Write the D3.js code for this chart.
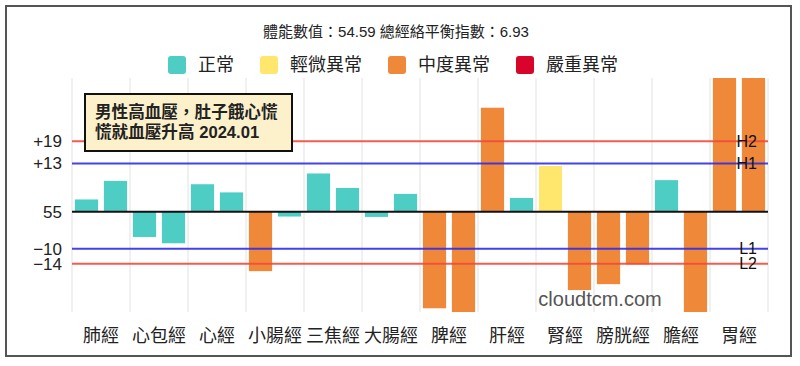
<!DOCTYPE html>
<html>
<head>
<meta charset="utf-8">
<script src="https://cdn.jsdelivr.net/npm/d3@7"></script>
<style>
  body { margin: 0; background: #fff; }
  svg { display: block; }
  text { font-family: Helvetica, Arial, "Liberation Sans", "Noto Sans CJK TC", sans-serif; }
</style>
</head>
<body>
<div id="chart"></div>
<script>
// Data (deviation from 55)
var meridians = ["肺經", "心包經", "心經", "小腸經", "三焦經", "大腸經", "脾經", "肝經", "腎經", "膀胱經", "膽經", "胃經"];
var leftValues = [3.3, -6.8, 7.4, -16.0, 10.3, -1.4, -26.0, 28.0, 12.3, -19.5, 8.5, 40];
var rightValues = [8.3, -8.5, 5.2, -1.3, 6.4, 4.8, -29, 3.7, -21.1, -14.2, -29, 40];
var leftStatus = ["正常", "正常", "正常", "中度異常", "正常", "正常", "中度異常", "中度異常", "輕微異常", "中度異常", "正常", "中度異常"];
var rightStatus = ["正常", "正常", "正常", "正常", "正常", "正常", "中度異常", "正常", "中度異常", "中度異常", "中度異常", "中度異常"];

var statusNames = ["正常", "輕微異常", "中度異常", "嚴重異常"];
var statusColors = ["#4ecdc4", "#ffe66d", "#f0883a", "#d9042b"];

var tickValues = [19, 13, 0, -10, -14];
var tickLabels = ["+19", "+13", "55", "\u221210", "\u221214"];
var refLines = [
  { value: 19, name: "H2", color: "#f24a3c" },
  { value: 13, name: "H1", color: "#2f2fe6" },
  { value: -10, name: "L1", color: "#2f2fe6" },
  { value: -14, name: "L2", color: "#f24a3c" }
];

var titleText = "體能數值：54.59 總經絡平衡指數：6.93";
var noteLines = ["男性高血壓，肚子餓心慌", "慌就血壓升高 2024.01"];

var svgWidth = 800, svgHeight = 366;
var margin = { top: 78, right: 32, bottom: 54, left: 72 };
var chartWidth = svgWidth - margin.left - margin.right;
var chartHeight = svgHeight - margin.top - margin.bottom;

var svg = d3.select("#chart").append("svg")
  .attr("width", svgWidth)
  .attr("height", svgHeight);

// outer frame
svg.append("rect")
  .attr("x", 6).attr("y", 6)
  .attr("width", 785).attr("height", 350)
  .attr("fill", "none")
  .attr("stroke", "#555")
  .attr("stroke-width", 2);

// title
svg.append("text")
  .attr("x", 396).attr("y", 31)
  .attr("text-anchor", "middle")
  .attr("dominant-baseline", "central")
  .attr("font-size", 15)
  .attr("fill", "#222")
  .text(titleText);

// legend
var legend = svg.append("g");
var lx = 0;
statusNames.forEach(function (name, i) {
  var item = legend.append("g").attr("transform", "translate(" + lx + ",0)");
  item.append("rect")
    .attr("x", 0).attr("y", -9)
    .attr("width", 18).attr("height", 18)
    .attr("rx", 3)
    .attr("fill", statusColors[i]);
  var t = item.append("text")
    .attr("x", 30).attr("y", 0)
    .attr("dominant-baseline", "central")
    .attr("font-size", 18)
    .attr("fill", "#222")
    .text(name);
  lx += 30 + t.node().getComputedTextLength() + 26;
});
lx -= 26;
legend.attr("transform", "translate(" + (393 - lx / 2) + ",65)");

var chartGroup = svg.append("g")
  .attr("transform", "translate(" + margin.left + "," + margin.top + ")");

var x0 = d3.scaleBand().domain(meridians).range([0, chartWidth]);
var x1 = d3.scaleBand().domain([0, 1]).range([0, x0.bandwidth()])
  .paddingInner(0.2).paddingOuter(0.1);
var y = d3.scaleLinear().domain([-27, 36]).range([chartHeight, 0]);

// vertical grid lines
var gridX = meridians.map(function (m) { return x0(m); }).concat([chartWidth]);
chartGroup.selectAll(".grid")
  .data(gridX)
  .enter().append("line")
  .attr("x1", function (d) { return d; })
  .attr("x2", function (d) { return d; })
  .attr("y1", 0).attr("y2", chartHeight)
  .attr("stroke", "#e2e2e2")
  .attr("stroke-width", 1);

chartGroup.append("clipPath").attr("id", "plotClip")
  .append("rect").attr("width", chartWidth).attr("height", chartHeight);

// bars
var bars = [];
meridians.forEach(function (m, i) {
  bars.push({ m: m, side: 0, v: leftValues[i], s: leftStatus[i] });
  bars.push({ m: m, side: 1, v: rightValues[i], s: rightStatus[i] });
});
chartGroup.append("g").attr("clip-path", "url(#plotClip)")
  .selectAll("rect")
  .data(bars)
  .enter().append("rect")
  .attr("x", function (d) { return x0(d.m) + x1(d.side); })
  .attr("width", x1.bandwidth())
  .attr("y", function (d) { return y(Math.max(0, d.v)); })
  .attr("height", function (d) { return Math.abs(y(d.v) - y(0)); })
  .attr("fill", function (d) { return statusColors[statusNames.indexOf(d.s)]; });

// reference lines
refLines.forEach(function (r) {
  chartGroup.append("line")
    .attr("x1", 0).attr("x2", chartWidth)
    .attr("y1", y(r.value)).attr("y2", y(r.value))
    .attr("stroke", r.color)
    .attr("stroke-opacity", 0.9)
    .attr("stroke-width", 2);
  chartGroup.append("text")
    .attr("x", chartWidth - 11)
    .attr("y", y(r.value))
    .attr("text-anchor", "end")
    .attr("dominant-baseline", "central")
    .attr("font-size", 16)
    .attr("fill", "#111")
    .text(r.name);
});

// zero (55) line
chartGroup.append("line")
  .attr("x1", 0).attr("x2", chartWidth)
  .attr("y1", y(0)).attr("y2", y(0))
  .attr("stroke", "#111")
  .attr("stroke-width", 2);

// y axis labels
var yAxis = d3.axisLeft(y)
  .tickValues(tickValues)
  .tickSize(0)
  .tickPadding(10)
  .tickFormat(function (d, i) { return tickLabels[i]; });
var yg = chartGroup.append("g").call(yAxis);
yg.select(".domain").remove();
yg.selectAll("text")
  .attr("font-size", 17)
  .attr("fill", "#222")
  .attr("font-family", "Helvetica, Arial, 'Liberation Sans', sans-serif");

// x axis labels
var xAxis = d3.axisBottom(x0).tickSize(0).tickPadding(17);
var xg = chartGroup.append("g")
  .attr("transform", "translate(0," + chartHeight + ")")
  .call(xAxis);
xg.select(".domain").remove();
xg.selectAll("text")
  .attr("font-size", 18)
  .attr("fill", "#222")
  .attr("font-family", "'Noto Sans CJK TC', sans-serif");

// watermark
svg.append("text")
  .attr("x", 600).attr("y", 299)
  .attr("text-anchor", "middle")
  .attr("dominant-baseline", "central")
  .attr("font-size", 20)
  .attr("fill", "#555")
  .text("cloudtcm.com");

// note box
var note = svg.append("g").attr("transform", "translate(85,94)");
note.append("rect")
  .attr("width", 207).attr("height", 57)
  .attr("fill", "#fdf1cc")
  .attr("stroke", "#111")
  .attr("stroke-width", 2);
noteLines.forEach(function (line, i) {
  note.append("text")
    .attr("x", 10).attr("y", 18 + i * 20)
    .attr("dominant-baseline", "central")
    .attr("font-size", 16.6)
    .attr("font-weight", "bold")
    .attr("fill", "#222")
    .text(line);
});
</script>
</body>
</html>
